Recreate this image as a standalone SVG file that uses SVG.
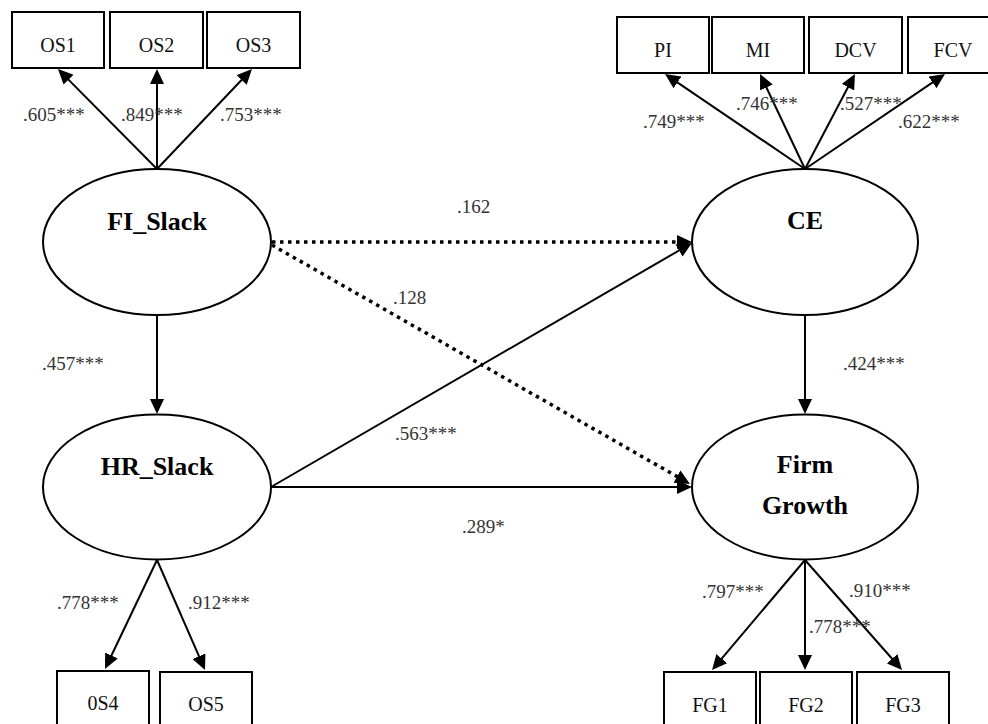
<svg xmlns="http://www.w3.org/2000/svg" width="988" height="724" viewBox="0 0 988 724">
<style>
.box{fill:#fff;stroke:#000;stroke-width:2}
.ell{fill:#fff;stroke:#000;stroke-width:2}
.bt{font-family:"Liberation Serif",serif;font-size:20px;fill:#111;text-anchor:middle}
.lt{font-family:"Liberation Serif",serif;font-size:26px;font-weight:bold;fill:#000;text-anchor:middle}
.lab{font-family:"Liberation Serif",serif;font-size:19px;fill:#333}
.ln{stroke:#000;stroke-width:2;fill:none;marker-end:url(#ah)}
.dot{stroke:#000;stroke-width:3.5;stroke-dasharray:3.5 4.5;fill:none;marker-end:url(#ah)}
</style>
<defs>
<marker id="ah" viewBox="0 0 15 14" refX="5" refY="7" markerWidth="15" markerHeight="14" markerUnits="userSpaceOnUse" orient="auto">
<path d="M0,0 L15,7 L0,14 z" fill="#000"/>
</marker>
</defs>
<rect width="988" height="724" fill="#fff"/>
<g id="connectors">
<line class="ln" x1="157" y1="169" x2="65" y2="76.1"/>
<line class="ln" x1="157" y1="169" x2="157" y2="79"/>
<line class="ln" x1="157" y1="169" x2="245.1" y2="76.3"/>
<line class="ln" x1="805" y1="169" x2="673.3" y2="79.6"/>
<line class="ln" x1="805" y1="169" x2="764.3" y2="83"/>
<line class="ln" x1="805" y1="169" x2="850.3" y2="82.8"/>
<line class="ln" x1="805" y1="169" x2="936.7" y2="79.6"/>
<line class="ln" x1="157" y1="560" x2="109.3" y2="660"/>
<line class="ln" x1="157" y1="560" x2="201" y2="660.8"/>
<line class="ln" x1="805" y1="560" x2="718.5" y2="662.4"/>
<line class="ln" x1="805" y1="560" x2="805" y2="660"/>
<line class="ln" x1="805" y1="560" x2="895.4" y2="662.5"/>
<line class="ln" x1="157" y1="315" x2="157" y2="404"/>
<line class="ln" x1="805" y1="315" x2="805" y2="404"/>
<line class="dot" x1="272" y1="242" x2="682" y2="242"/>
<line class="dot" x1="272" y1="245" x2="681.3" y2="479"/>
<line class="ln" x1="271" y1="487" x2="683.3" y2="248"/>
<line class="ln" x1="271" y1="487" x2="682" y2="487"/>
</g>
<g id="labels">
<text class="lab" x="23" y="121">.605***</text>
<text class="lab" x="121" y="121">.849***</text>
<text class="lab" x="220" y="121">.753***</text>
<text class="lab" x="643" y="128">.749***</text>
<text class="lab" x="736" y="110">.746***</text>
<text class="lab" x="840" y="110">.527***</text>
<text class="lab" x="898" y="128">.622***</text>
<text class="lab" x="42" y="370">.457***</text>
<text class="lab" x="843" y="370">.424***</text>
<text class="lab" x="457" y="213">.162</text>
<text class="lab" x="393" y="304">.128</text>
<text class="lab" x="395" y="440">.563***</text>
<text class="lab" x="462" y="533">.289*</text>
<text class="lab" x="57" y="609">.778***</text>
<text class="lab" x="188" y="609">.912***</text>
<text class="lab" x="702" y="598">.797***</text>
<text class="lab" x="809" y="633">.778***</text>
<text class="lab" x="849" y="597">.910***</text>
</g>
<g id="OS1"><rect class="box" x="12" y="12" width="92" height="56"/><text class="bt" x="58" y="52">OS1</text></g>
<g id="OS2"><rect class="box" x="110" y="12" width="93" height="56"/><text class="bt" x="156.5" y="52">OS2</text></g>
<g id="OS3"><rect class="box" x="207" y="12" width="93" height="56"/><text class="bt" x="253.5" y="52">OS3</text></g>
<g id="PI"><rect class="box" x="617" y="17" width="92" height="56"/><text class="bt" x="663" y="57">PI</text></g>
<g id="MI"><rect class="box" x="712" y="17" width="92" height="56"/><text class="bt" x="758" y="57">MI</text></g>
<g id="DCV"><rect class="box" x="809" y="17" width="93" height="56"/><text class="bt" x="855.5" y="57">DCV</text></g>
<g id="FCV"><rect class="box" x="908" y="17" width="92" height="56"/><text class="bt" x="953" y="57">FCV</text></g>
<g id="OS4"><rect class="box" x="57" y="671" width="92" height="60"/><text class="bt" x="103" y="710">0S4</text></g>
<g id="OS5"><rect class="box" x="160" y="672" width="92" height="60"/><text class="bt" x="206" y="711">OS5</text></g>
<g id="FG1"><rect class="box" x="664" y="672" width="92" height="60"/><text class="bt" x="710" y="712">FG1</text></g>
<g id="FG2"><rect class="box" x="760" y="672" width="92" height="60"/><text class="bt" x="806" y="712">FG2</text></g>
<g id="FG3"><rect class="box" x="857" y="672" width="92" height="60"/><text class="bt" x="903" y="712">FG3</text></g>
<g id="FI_Slack"><ellipse class="ell" cx="157" cy="242" rx="114" ry="73"/><text class="lt" x="157" y="230">FI_Slack</text></g>
<g id="HR_Slack"><ellipse class="ell" cx="157" cy="487" rx="114" ry="72.5"/><text class="lt" x="157" y="475">HR_Slack</text></g>
<g id="CE"><ellipse class="ell" cx="805" cy="242" rx="113" ry="73"/><text class="lt" x="805" y="229">CE</text></g>
<g id="FirmGrowth"><ellipse class="ell" cx="805" cy="487" rx="113" ry="72.5"/><text class="lt" x="805" y="473">Firm</text><text class="lt" x="805" y="514">Growth</text></g>
</svg>
